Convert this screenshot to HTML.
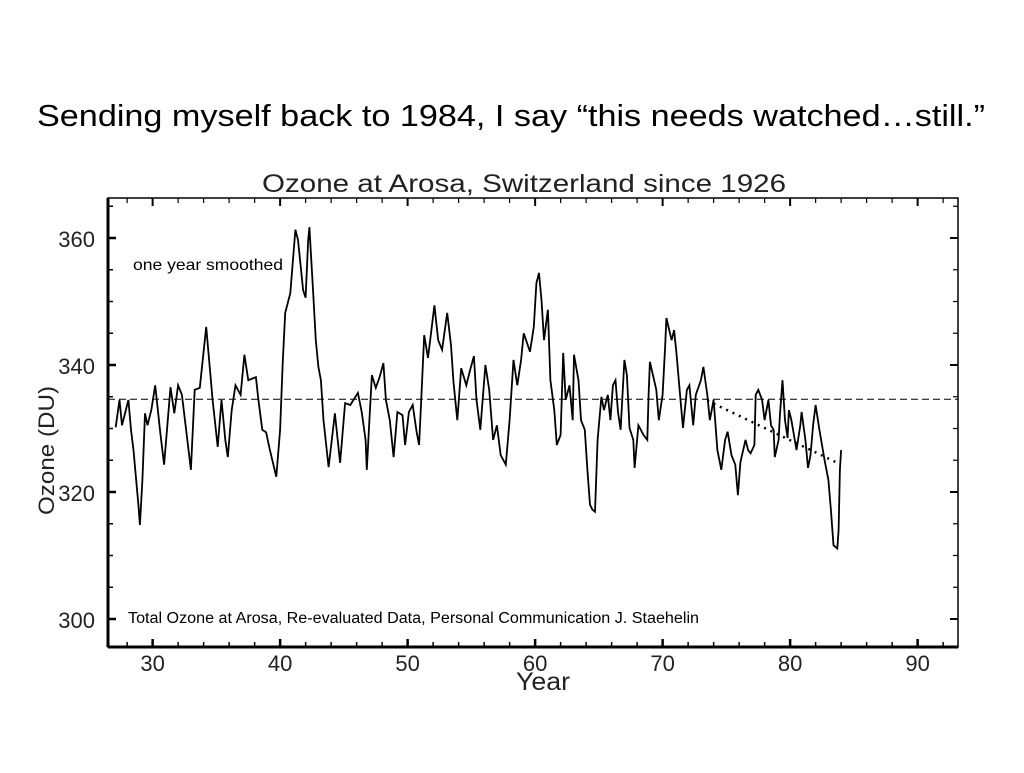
<!DOCTYPE html>
<html><head><meta charset="utf-8"><style>
body{margin:0;width:1024px;height:768px;background:#fff;overflow:hidden;font-family:"Liberation Sans",sans-serif}
</style></head><body>
<svg width="1024" height="768" viewBox="0 0 1024 768" xmlns="http://www.w3.org/2000/svg">
<text x="37" y="126" font-size="31" textLength="948" lengthAdjust="spacingAndGlyphs" font-family="Liberation Sans, sans-serif" fill="#000">Sending myself back to 1984, I say “this needs watched…still.”</text>
<text x="262" y="192" font-size="25" textLength="524" lengthAdjust="spacingAndGlyphs" fill="#222">Ozone at Arosa, Switzerland since 1926</text>
<g id="axes"></g>
<g id="plot"></g>
<text x="133" y="270" font-size="16" textLength="150" lengthAdjust="spacingAndGlyphs" fill="#000">one year smoothed</text>
<text x="128" y="623" font-size="15.5" textLength="571" lengthAdjust="spacingAndGlyphs" fill="#000">Total Ozone at Arosa, Re-evaluated Data, Personal Communication J. Staehelin</text>
<text x="516" y="690" font-size="25" textLength="54" lengthAdjust="spacingAndGlyphs" fill="#222">Year</text>
<text transform="translate(54,515) rotate(-90)" font-size="22" textLength="129" lengthAdjust="spacingAndGlyphs" fill="#222">Ozone (DU)</text>
</svg>
<script>
const years=[27.1,27.4,27.6,28.1,28.3,28.5,28.9,29.0,29.2,29.4,29.6,29.9,30.2,30.6,30.9,31.4,31.7,32.0,32.3,32.6,33.0,33.3,33.7,34.2,34.5,34.7,35.1,35.4,35.7,35.9,36.2,36.5,36.9,37.2,37.5,38.1,38.3,38.6,38.9,39.2,39.7,40.0,40.2,40.4,40.8,41.2,41.4,41.8,42.0,42.2,42.3,42.6,42.8,43.0,43.2,43.4,43.8,44.3,44.7,45.1,45.5,46.1,46.4,46.7,46.8,47.0,47.2,47.5,47.8,48.1,48.3,48.6,48.9,49.2,49.6,49.8,50.1,50.4,50.7,50.9,51.1,51.3,51.6,52.1,52.4,52.7,53.1,53.4,53.6,53.9,54.2,54.6,54.9,55.2,55.4,55.7,56.1,56.4,56.7,57.0,57.3,57.7,58.0,58.3,58.6,58.9,59.1,59.6,59.9,60.1,60.3,60.5,60.7,61.0,61.2,61.5,61.7,62.0,62.2,62.4,62.7,62.95,63.05,63.4,63.6,63.9,64.1,64.3,64.5,64.7,64.9,65.2,65.4,65.7,65.9,66.1,66.3,66.5,66.7,67.0,67.2,67.4,67.7,67.8,68.1,68.5,68.8,68.9,69.0,69.5,69.7,70.0,70.2,70.3,70.7,70.9,71.1,71.4,71.6,71.9,72.1,72.4,72.6,73.0,73.2,73.5,73.7,74.0,74.3,74.6,74.9,75.1,75.4,75.7,75.9,76.1,76.5,76.7,76.9,77.2,77.3,77.5,77.8,78.0,78.3,78.5,78.7,78.8,79.1,79.2,79.4,79.6,79.8,79.9,80.1,80.3,80.5,80.8,80.9,81.2,81.4,81.6,81.8,82.0,82.3,82.5,82.7,83.0,83.2,83.4,83.7,83.8,83.9,84.0];
const ozone=[330.2,334.5,330.5,334.5,329.8,326.6,317.6,314.8,321.9,332.4,330.5,332.9,336.8,329.3,324.3,336.5,332.4,336.8,335.3,330.2,323.5,336.1,336.4,346.0,339.2,334.5,327.1,334.5,328.2,325.5,332.9,336.8,335.3,341.6,337.6,338.1,334.5,329.8,329.4,326.6,322.4,329.8,340.3,348.2,351.3,361.3,359.7,351.8,350.6,359.7,361.7,351.0,343.9,339.7,337.6,331.3,323.9,332.4,324.6,334.0,333.7,335.6,332.6,328.2,323.5,331.3,338.4,336.4,338.1,340.3,334.5,331.3,325.5,332.6,332.1,327.4,332.6,333.7,329.5,327.4,336.1,344.7,341.1,349.4,343.9,342.4,348.2,343.1,337.3,331.3,339.5,336.8,339.2,341.4,334.5,329.8,340.0,336.1,328.2,330.5,325.8,324.3,331.3,340.8,336.8,340.8,345.0,342.1,346.0,352.9,354.5,350.2,343.9,348.7,337.6,332.9,327.4,329.0,341.9,334.5,336.8,331.3,341.6,337.6,331.3,329.8,323.5,318.0,317.2,316.9,328.2,335.0,332.9,335.3,331.3,336.8,337.6,332.6,329.8,340.8,338.4,330.1,328.2,323.8,330.5,329.0,328.2,335.3,340.5,336.1,331.3,335.3,343.1,347.4,343.9,345.5,341.6,334.5,330.1,336.1,336.8,330.5,335.3,337.6,339.7,335.3,331.3,334.5,326.6,323.5,328.2,329.5,325.8,324.3,319.5,324.7,328.2,326.6,326.1,327.4,335.3,336.1,334.5,331.3,334.5,330.5,329.8,325.5,328.2,332.1,337.6,331.3,328.5,332.9,331.3,329.0,326.6,330.5,332.6,328.2,323.8,325.8,330.5,333.7,329.8,327.4,325.0,321.9,317.2,311.6,311.1,314.0,323.5,326.6];
const referenceLevel=[334.6];
const trendYears=[73.5,83.7];
const trendValues=[334.4,324.6];
const xTicks=[30,40,50,60,70,80,90];
const yTicks=[300,320,340,360];

const L=108,R=958,T=198,B=647;
const X=v=>L+(v-26.5)*12.75;
const Y=v=>238+(360-v)*6.35;
const NS='http://www.w3.org/2000/svg';
function mk(tag,parent,attrs){const e=document.createElementNS(NS,tag);for(const k in attrs)e.setAttribute(k,attrs[k]);parent.appendChild(e);return e;}
const axes=document.getElementById('axes'),plot=document.getElementById('plot');
const frame=mk('rect',axes,{x:L,y:T,width:R-L,height:B-T,fill:'none',stroke:'#000','stroke-width':1.5});


const xb=mk('line',axes,{x1:L,y1:B,x2:R,y2:B,stroke:'#000','stroke-width':3});


const yb=mk('line',axes,{x1:L,y1:T,x2:L,y2:B,stroke:'#000','stroke-width':3});


for(let v=28;v<=94;v+=2){const x=X(v);if(x>R)break;const major=v%10===0;
 const t=mk('line',axes,{x1:x,y1:B,x2:x,y2:B-(major?8:5),stroke:'#000','stroke-width':major?2.5:1.5});
 
 
 const t2=mk('line',axes,{x1:x,y1:T,x2:x,y2:T+(major?8:5),stroke:'#000','stroke-width':major?2:1.2});
 
 }
for(let v=300;v<=365;v+=5){const y=Y(v);const major=v%20===0;
 const t=mk('line',axes,{x1:L,y1:y,x2:L+(major?8:5),y2:y,stroke:'#000','stroke-width':major?2.5:1.5});
 
 
 const t2=mk('line',axes,{x1:R,y1:y,x2:R-(major?8:5),y2:y,stroke:'#000','stroke-width':major?2:1.2});
 
 }
xTicks.forEach(v=>{const t=mk('text',axes,{x:X(v),y:B+24,'text-anchor':'middle','font-size':22,fill:'#222'});t.textContent=v;
 
 });
yTicks.forEach(v=>{const t=mk('text',axes,{x:95,y:Y(v)+9,'text-anchor':'end','font-size':22,fill:'#222'});t.textContent=v;
 
 });
const ref=mk('line',plot,{x1:L,x2:R,y1:Y(referenceLevel[0]),y2:Y(referenceLevel[0]),stroke:'#000','stroke-width':1,'stroke-dasharray':'7,4'});


const tr=mk('line',plot,{x1:X(trendYears[0]),y1:Y(trendValues[0]),x2:X(trendYears[1]),y2:Y(trendValues[1]),stroke:'#000','stroke-width':2.5,'stroke-dasharray':'2,5'});


const pts=years.map((y,i)=>X(y).toFixed(1)+','+Y(ozone[i]).toFixed(1)).join(' ');
const line=mk('polyline',plot,{points:pts,fill:'none',stroke:'#000','stroke-width':1.8,'stroke-linejoin':'miter'});


</script>
</body></html>
